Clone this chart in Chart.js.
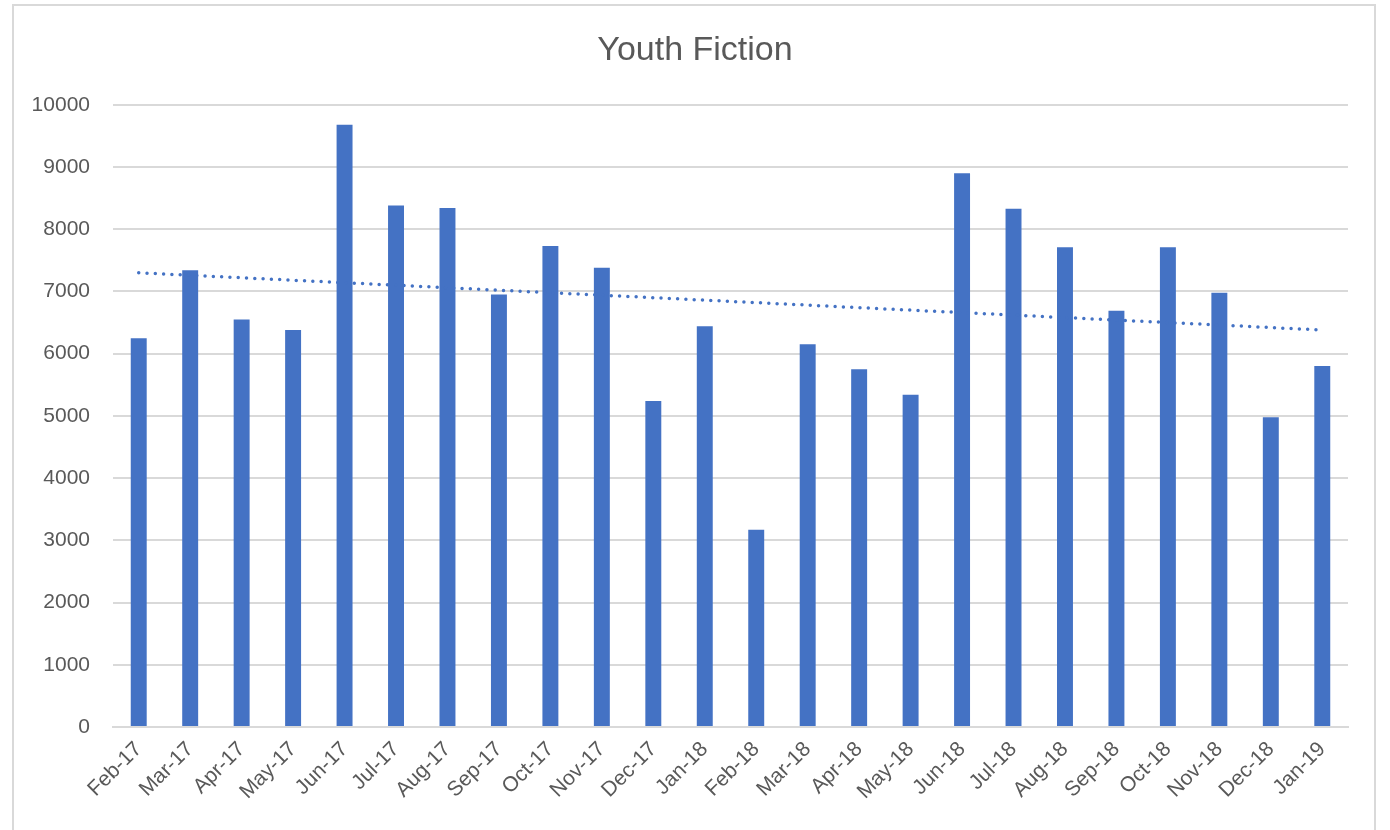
<!DOCTYPE html>
<html>
<head>
<meta charset="utf-8">
<script src="https://cdn.jsdelivr.net/npm/chart.js@4"></script>
<style>
  html, body { margin: 0; padding: 0; background: #fff; }
  #wrap { position: absolute; left: 0; top: 0; width: 1390px; height: 830px; }
  #frame { position: absolute; left: 12px; top: 4px; width: 1364px; height: 840px; border: 2px solid #d9d9d9; box-sizing: border-box; pointer-events: none; }
</style>
</head>
<body>
<div id="wrap"><canvas id="c" width="1390" height="830"></canvas></div>
<div id="frame"></div>
<script>
const categories = ["Feb-17","Mar-17","Apr-17","May-17","Jun-17","Jul-17","Aug-17","Sep-17","Oct-17","Nov-17","Dec-17","Jan-18","Feb-18","Mar-18","Apr-18","May-18","Jun-18","Jul-18","Aug-18","Sep-18","Oct-18","Nov-18","Dec-18","Jan-19"];
const values = [6250,7340,6550,6380,9680,8380,8340,6950,7730,7380,5240,6440,3170,6150,5750,5340,8900,8330,7710,6690,7710,6980,4980,5800];
// trendline end values (first and last category)
const trendStart = 7300;
const trendEnd = 6380;
const trend = categories.map((c, i) => i === 0 ? trendStart : (i === categories.length - 1 ? trendEnd : null));
const yTicks = [0,1000,2000,3000,4000,5000,6000,7000,8000,9000,10000];

const FONT = "'Liberation Sans', Arial, sans-serif";
const GREY = '#595959';

new Chart(document.getElementById('c'), {
  type: 'bar',
  data: {
    labels: categories,
    datasets: [
      {
        type: 'line',
        label: 'Linear',
        data: trend,
        spanGaps: true,
        borderColor: '#4472C4',
        borderWidth: 3.5,
        borderDash: [0, 8.3],
        borderCapStyle: 'round',
        pointRadius: 0,
        fill: false,
        order: 0
      },
      {
        label: 'Youth Fiction',
        data: values,
        backgroundColor: '#4472C4',
        borderWidth: 0,
        categoryPercentage: 1.0,
        barPercentage: 0.31,
        order: 1
      }
    ]
  },
  options: {
    responsive: false,
    animation: false,
    layout: { padding: { left: 0, right: 0, top: 0, bottom: 0 } },
    plugins: {
      legend: { display: false },
      tooltip: { enabled: false },
      title: {
        display: true,
        text: 'Youth Fiction',
        color: GREY,
        font: { family: FONT, size: 34, weight: 'normal' },
        padding: { top: 30, bottom: 34 }
      }
    },
    scales: {
      x: {
        grid: { display: false, drawTicks: false },
        border: { display: true, color: '#d9d9d9', width: 2 },
        ticks: {
          color: GREY,
          font: { family: FONT, size: 21 },
          maxRotation: 45,
          minRotation: 45,
          autoSkip: false,
          padding: 10
        },
        afterFit: s => { s.height = 103; }
      },
      y: {
        min: 0,
        max: 10000,
        afterBuildTicks: s => { s.ticks = yTicks.map(v => ({ value: v })); },
        grid: { color: '#d9d9d9', lineWidth: 2, drawTicks: false },
        border: { display: false },
        ticks: {
          color: GREY,
          font: { family: FONT, size: 21 },
          padding: 23,
          callback: v => String(v)
        },
        afterFit: s => { s.width = 113; }
      },
      yRight: {
        position: 'right',
        display: true,
        min: 0,
        max: 10000,
        grid: { display: false, drawTicks: false },
        border: { display: false },
        ticks: { display: false },
        afterFit: s => { s.width = 42; }
      }
    }
  }
});
</script>
</body>
</html>
